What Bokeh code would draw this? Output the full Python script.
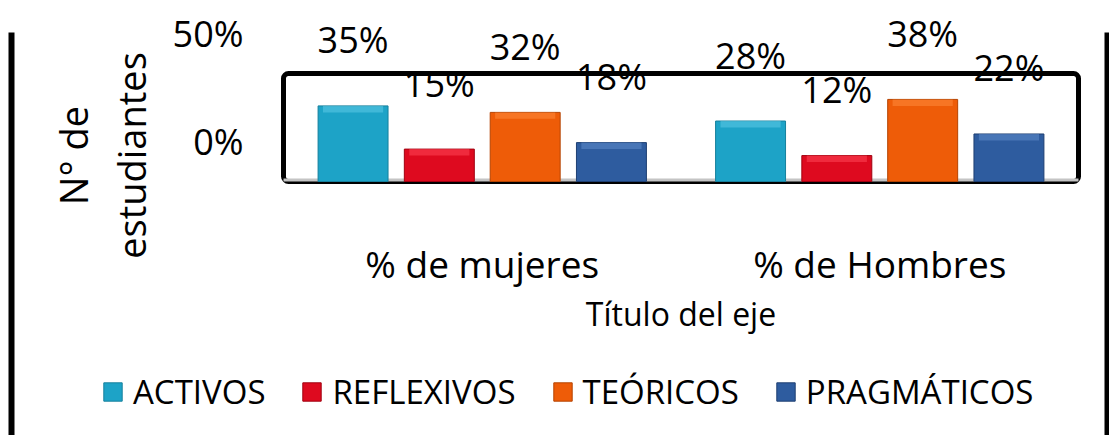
from math import pi
from bokeh.plotting import figure
from bokeh.models import (Range1d, ColumnDataSource, LabelSet, Label, Legend, LegendItem,
                          BoxAnnotation)
from bokeh.transform import dodge
from bokeh.core.properties import value
from bokeh.embed import file_html
from bokeh.resources import INLINE

# ---------------- data ----------------
groups = ["% de mujeres", "% de Hombres"]
series = ["ACTIVOS", "REFLEXIVOS", "TEÓRICOS", "PRAGMÁTICOS"]
activos = [35, 28]
reflexivos = [15, 12]
teoricos = [32, 38]
pragmaticos = [18, 22]
y_ticks = [0, 50]
y_tick_labels = ["0%", "50%"]
y_title_lines = ["N° de", "estudiantes"]
x_title = "Título del eje"

# ---------------- layout / styles ----------------
W, H = 1109, 435
FONT = "Open Sans"
PX_GROUP = 397.5      # pixels per category
G0_PX = 481.75        # pixel x of first category centre
BASE_PX = 181.0       # pixel y of 0 %
PX_PCT = 2.16         # pixels per percent


def xpx(px):
    return (px - G0_PX) / PX_GROUP


def ypx(py):
    return (BASE_PX - py) / PX_PCT


colors = ["#1DA3C7", "#DE0A1F", "#EE5C08", "#2E5C9F"]
lights = ["#5CCBE6", "#FF4655", "#FF8A3C", "#5E8CCB"]
edges = ["#16809D", "#A0000F", "#B54300", "#1E3F72"]
offsets = [-0.325, -0.108, 0.108, 0.325]
bar_w = 0.176
bevel = 3.0

p = figure(width=W, height=H, x_range=Range1d(xpx(0), xpx(W)), y_range=Range1d(ypx(H), ypx(0)),
           output_backend="svg", toolbar_location=None, x_axis_location=None,
           y_axis_location=None, min_border=0)
p.outline_line_color = None
p.grid.visible = False

gx = list(range(len(groups)))

# plot-area box (0 .. 50 %)
p.add_layout(BoxAnnotation(left=gx[0] - 0.5, right=gx[-1] + 0.5, bottom=y_ticks[0],
                           top=y_ticks[-1], fill_alpha=0, line_color="black", line_alpha=1,
                           line_width=5, border_radius=5, level="underlay"))
# floor
p.segment(x0=gx[0] - 0.5, x1=gx[-1] + 0.5, y0=ypx(179.5), y1=ypx(179.5),
          line_color="#C4C4C4", line_width=3)

# outer vertical border lines
for l_px, r_px in [(8, 14), (1104, 1112)]:
    p.add_layout(BoxAnnotation(left=xpx(l_px), right=xpx(r_px), top=ypx(32), bottom=ypx(H + 5),
                               fill_color="black", fill_alpha=1, line_alpha=0))

values = [activos, reflexivos, teoricos, pragmaticos]
renderers = []
for name, vals, off, col, lc, ec in zip(series, values, offsets, colors, lights, edges):
    src = ColumnDataSource(dict(gx=gx, v=vals, vb=[v - bevel for v in vals],
                                t=[f"{v}%" for v in vals]))
    r = p.vbar(x=dodge("gx", off), top="v", bottom=0, width=bar_w, source=src,
               fill_color=col, line_color=ec, line_width=1)
    p.vbar(x=dodge("gx", off), top="v", bottom="vb", width=bar_w * 0.86, source=src,
           fill_color=lc, fill_alpha=0.55, line_color=None)
    renderers.append(r)
    p.add_layout(LabelSet(x=dodge("gx", off), y="v", text="t", source=src,
                          y_offset=66, text_align="center", text_baseline="middle",
                          text_font=value(FONT), text_font_size="36px", text_color="black"))

# y tick labels (drawn shifted up, as in the reference)
tsrc = ColumnDataSource(dict(y=y_ticks, t=y_tick_labels))
p.add_layout(LabelSet(x=gx[0] - 0.5, y="y", text="t", source=tsrc, x_offset=-40, y_offset=40,
                      text_align="right", text_baseline="middle", text_font=value(FONT),
                      text_font_size="36px", text_color="black"))

# category labels
csrc = ColumnDataSource(dict(gx=gx, g=groups, y=[0] * len(groups)))
p.add_layout(LabelSet(x="gx", y="y", text="g", source=csrc, y_offset=-82, text_align="center",
                      text_baseline="middle", text_font=value(FONT), text_font_size="37px",
                      text_color="black"))

# y title (two lines, rotated)
for txt, px in zip(y_title_lines, [72, 130]):
    p.add_layout(Label(x=xpx(px), y=ypx(155), text=txt, angle=pi / 2, text_align="center",
                       text_baseline="middle", text_font=FONT, text_font_size="38px",
                       text_color="black"))

# x title
p.add_layout(Label(x=(gx[0] + gx[-1]) / 2, y=ypx(313), text=x_title, text_align="center",
                   text_baseline="middle", text_font=FONT, text_font_size="32px",
                   text_color="black"))

legend = Legend(items=[LegendItem(label=s, renderers=[r]) for s, r in zip(series, renderers)],
                orientation="horizontal", location=(101, 21), glyph_width=23, glyph_height=23,
                label_standoff=9, spacing=35, padding=0, margin=0, border_line_alpha=0,
                background_fill_alpha=0, label_text_font=FONT, label_text_font_size="33px",
                label_text_color="black")
p.add_layout(legend, "center")

open("out.html", "w").write(file_html(p, INLINE))
